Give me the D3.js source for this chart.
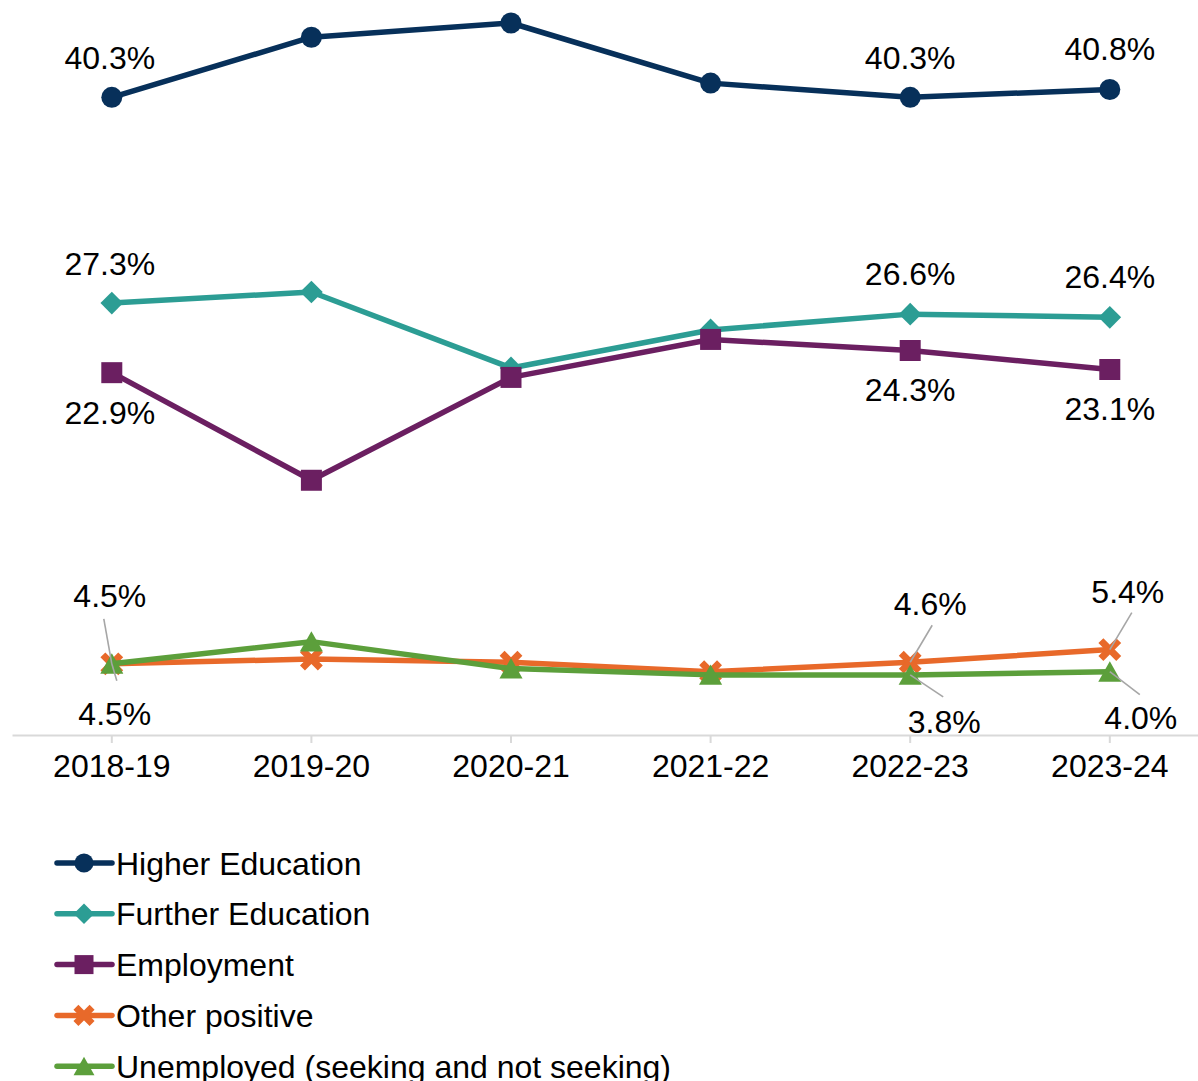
<!DOCTYPE html>
<html>
<head>
<meta charset="utf-8">
<script src="https://cdn.jsdelivr.net/npm/d3@7"></script>
<style>
  html, body { margin: 0; padding: 0; background: #fff; }
  svg { display: block; }
  text { font-family: "Liberation Sans", Arial, sans-serif; }
</style>
</head>
<body>
<div id="chart"></div>
<script>
// Destinations of school leavers, share of leavers (%) by year
const categories = ["2018-19", "2019-20", "2020-21", "2021-22", "2022-23", "2023-24"];
const higherEducation = [40.3, 44.1, 45.0, 41.2, 40.3, 40.8];
const furtherEducation = [27.3, 28.0, 23.2, 25.6, 26.6, 26.4];
const employment = [22.9, 16.1, 22.6, 25.0, 24.3, 23.1];
const otherPositive = [4.5, 4.8, 4.6, 4.0, 4.6, 5.4];
const unemployed = [4.5, 5.9, 4.2, 3.8, 3.8, 4.0];
const seriesNames = [
  "Higher Education",
  "Further Education",
  "Employment",
  "Other positive",
  "Unemployed (seeking and not seeking)"
];
// years whose values are labelled on the chart
const labelledYears = ["2018-19", "2022-23", "2023-24"];

const W = 1198, H = 1081;
const fontSize = 32;

const seriesStyle = [
  { color: "#07305a", shape: "circle" },
  { color: "#2c9d94", shape: "diamond" },
  { color: "#6b1f61", shape: "square" },
  { color: "#e8692a", shape: "cross" },
  { color: "#5c9f3b", shape: "triangle" }
];

// label placement relative to each labelled point: [dx, dy] of text centre,
// plus optional leader-line end point [lx, ly]
const labelPlacement = [
  [{ t: [-2, -40] }, { t: [0, -40] }, { t: [0, -41] }],
  [{ t: [-2, -40] }, { t: [0, -41] }, { t: [0, -41] }],
  [{ t: [-2, 40] }, { t: [0, 39] }, { t: [0, 39] }],
  [{ t: [-2, -68], l: [-8, -45] }, { t: [20, -59], l: [22, -37] }, { t: [18, -58], l: [22, -37] }],
  [{ t: [3, 50], l: [5, 17] }, { t: [34, 47], l: [33, 22] }, { t: [31, 46], l: [30, 23] }]
];

const seriesValues = [higherEducation, furtherEducation, employment, otherPositive, unemployed];

const svg = d3.select("#chart").append("svg")
  .attr("width", W).attr("height", H);

const x = d3.scaleBand().domain(categories).range([12, 1209.6]).padding(0);
const y = d3.scaleLinear().domain([0, 45]).range([735, 23]);
const cx = c => x(c) + x.bandwidth() / 2;

// category axis
const axis = svg.append("g").attr("transform", `translate(0,${y(0)})`)
  .call(d3.axisBottom(x).tickSize(8).tickPadding(11).tickSizeOuter(0));
axis.select(".domain").attr("stroke", "#d9d9d9").attr("stroke-width", 2);
axis.selectAll(".tick line").attr("stroke", "#d9d9d9").attr("stroke-width", 2);
axis.selectAll(".tick text")
  .attr("font-size", fontSize)
  .attr("font-family", "'Liberation Sans', Arial, sans-serif")
  .attr("fill", "#000");

// marker shapes
function markerPath(shape, s) {
  const p = d3.path();
  if (shape === "circle") {
    p.moveTo(s, 0); p.arc(0, 0, s, 0, 2 * Math.PI);
  } else if (shape === "diamond") {
    p.moveTo(0, -s * 1.08); p.lineTo(s * 1.08, 0); p.lineTo(0, s * 1.08); p.lineTo(-s * 1.08, 0); p.closePath();
  } else if (shape === "square") {
    p.rect(-s, -s, 2 * s, 2 * s);
  } else if (shape === "triangle") {
    p.moveTo(0, -s); p.lineTo(s * 1.1, s * 0.95); p.lineTo(-s * 1.1, s * 0.95); p.closePath();
  }
  return p.toString();
}

function drawMarker(g, shape, color, px, py, s) {
  if (shape === "cross") {
    const a = s * 0.85;
    g.append("path")
      .attr("d", `M${px - a},${py - a}L${px + a},${py + a}M${px + a},${py - a}L${px - a},${py + a}`)
      .attr("stroke", color).attr("stroke-width", 7).attr("fill", "none");
  } else {
    g.append("path")
      .attr("d", markerPath(shape, s))
      .attr("transform", `translate(${px},${py})`)
      .attr("fill", color);
  }
}

const line = d3.line().x(d => cx(d.cat)).y(d => y(d.v));

seriesValues.forEach((vals, i) => {
  const st = seriesStyle[i];
  const pts = categories.map((c, j) => ({ cat: c, v: vals[j] }));
  const g = svg.append("g");
  g.append("path").datum(pts)
    .attr("d", line)
    .attr("fill", "none")
    .attr("stroke", st.color)
    .attr("stroke-width", 5.5)
    .attr("stroke-linejoin", "round");
  pts.forEach(p => drawMarker(g, st.shape, st.color, cx(p.cat), y(p.v), 10.5));
});

// data labels with leader lines
const labelLayer = svg.append("g");
seriesValues.forEach((vals, i) => {
  labelledYears.forEach((yr, k) => {
    const j = categories.indexOf(yr);
    const px = cx(yr), py = y(vals[j]);
    const pl = labelPlacement[i][k];
    if (pl.l) {
      labelLayer.append("line")
        .attr("x1", px).attr("y1", py)
        .attr("x2", px + pl.l[0]).attr("y2", py + pl.l[1])
        .attr("stroke", "#a6a6a6").attr("stroke-width", 1.6);
    }
    labelLayer.append("text")
      .attr("x", px + pl.t[0]).attr("y", py + pl.t[1])
      .attr("dy", "0.36em")
      .attr("text-anchor", "middle")
      .attr("font-size", fontSize)
      .attr("fill", "#000")
      .text(vals[j].toFixed(1) + "%");
  });
});

// legend
const legend = svg.append("g");
seriesNames.forEach((name, i) => {
  const st = seriesStyle[i];
  const ly = 863 + i * 50.8;
  const row = legend.append("g");
  row.append("line")
    .attr("x1", 57).attr("x2", 112).attr("y1", ly).attr("y2", ly)
    .attr("stroke", st.color).attr("stroke-width", 5.5).attr("stroke-linecap", "round");
  drawMarker(row, st.shape, st.color, 84, ly, 9.5);
  row.append("text")
    .attr("x", 116).attr("y", ly).attr("dy", "0.36em")
    .attr("font-size", fontSize).attr("fill", "#000")
    .text(name);
});
</script>
</body>
</html>
